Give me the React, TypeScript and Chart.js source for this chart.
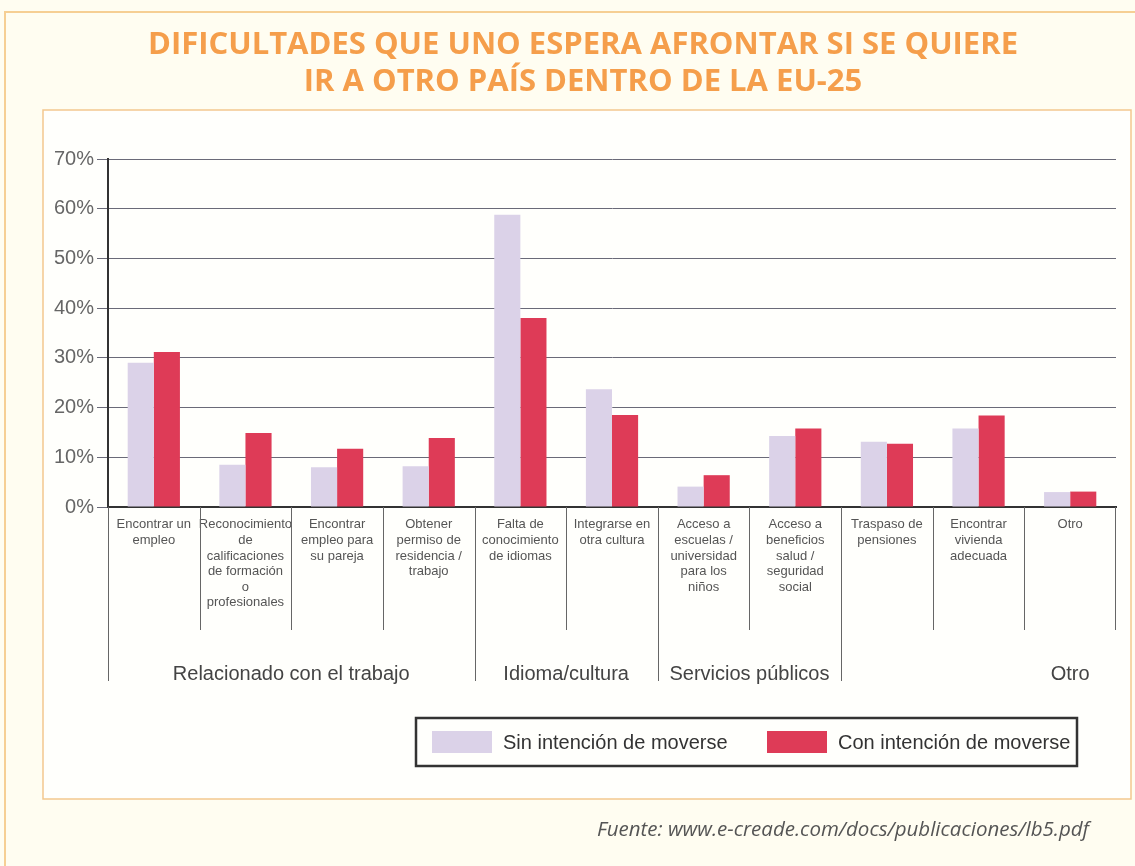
import { useEffect, useRef } from "react";
import { Chart, registerables } from "chart.js";

Chart.register(...registerables);

const titleLines = [
  "DIFICULTADES QUE UNO ESPERA AFRONTAR SI SE QUIERE",
  "IR A OTRO PAÍS DENTRO DE LA EU-25",
];

const categories: string[][] = [
  ["Encontrar un", "empleo"],
  ["Reconocimiento", "de", "calificaciones", "de formación", "o", "profesionales"],
  ["Encontrar", "empleo para", "su pareja"],
  ["Obtener", "permiso de", "residencia /", "trabajo"],
  ["Falta de", "conocimiento", "de idiomas"],
  ["Integrarse en", "otra cultura"],
  ["Acceso a", "escuelas /", "universidad", "para los", "niños"],
  ["Acceso a", "beneficios", "salud /", "seguridad", "social"],
  ["Traspaso de", "pensiones"],
  ["Encontrar", "vivienda", "adecuada"],
  ["Otro"],
];

const seriesNames = ["Sin intención de moverse", "Con intención de moverse"];
const sinIntencion = [29.0, 8.5, 8.0, 8.2, 58.8, 23.7, 4.1, 14.3, 13.1, 15.8, 3.0];
const conIntencion = [31.2, 14.9, 11.7, 13.9, 38.0, 18.5, 6.4, 15.8, 12.7, 18.4, 3.1];

const yTicks = [0, 10, 20, 30, 40, 50, 60, 70];

const groupLabels = ["Relacionado con el trabajo", "Idioma/cultura", "Servicios públicos", "Otro"];
const groupLabelColumns: [number, number][] = [[0, 3], [4, 5], [6, 7], [10, 10]];
const groupDividerColumns = [0, 4, 6, 8];

const sourceText = "Fuente: www.e-creade.com/docs/publicaciones/lb5.pdf";

const COLORS = ["#dbd2e8", "#de3b57"];
const SANS = "'Liberation Sans', Arial, sans-serif";

const decorPlugin = {
  id: "decor",
  beforeDraw(chart: any) {
    const ctx = chart.ctx as CanvasRenderingContext2D;
    ctx.save();
    ctx.fillStyle = "#fffdf1";
    ctx.fillRect(0, 0, chart.width, chart.height);
    ctx.strokeStyle = "#f6cf94";
    ctx.lineWidth = 2;
    ctx.strokeRect(5, 12, chart.width + 20, chart.height + 20);
    ctx.fillStyle = "#fffffc";
    ctx.fillRect(43, 110, 1088, 689);
    ctx.strokeStyle = "#f3c88e";
    ctx.lineWidth = 1.5;
    ctx.strokeRect(43, 110, 1088, 689);
    ctx.restore();
  },
  afterDraw(chart: any) {
    const ctx = chart.ctx as CanvasRenderingContext2D;
    const xs = chart.scales.x;
    const area = chart.chartArea;
    ctx.save();
    // title
    ctx.fillStyle = "#f59e4b";
    ctx.font = "bold 31px 'Open Sans', sans-serif";
    ctx.textAlign = "center";
    ctx.textBaseline = "middle";
    titleLines.forEach((t, i) => ctx.fillText(t, 583, 45 + i * 37));

    // category separators
    const n = categories.length;
    const colW = (area.right - area.left) / n;
    ctx.strokeStyle = "#666";
    ctx.lineWidth = 1;
    for (let i = 0; i <= n; i++) {
      const xx =
        i === n
          ? Math.round(xs.getPixelForValue(n - 1) + colW / 2) - 0.5
          : Math.round(xs.getPixelForValue(i) - colW / 2) + 0.5;
      const long = groupDividerColumns.includes(i);
      ctx.beginPath();
      ctx.moveTo(xx, area.bottom);
      ctx.lineTo(xx, long ? 681 : 630);
      ctx.stroke();
    }

    // group labels
    ctx.fillStyle = "#444";
    ctx.font = `20px ${SANS}`;
    ctx.textAlign = "center";
    ctx.textBaseline = "middle";
    groupLabels.forEach((g, i) => {
      const [a, b] = groupLabelColumns[i];
      const cx = (xs.getPixelForValue(a) + xs.getPixelForValue(b)) / 2;
      ctx.fillText(g, cx, 674);
    });

    // legend
    ctx.strokeStyle = "#333";
    ctx.lineWidth = 2.5;
    ctx.strokeRect(416, 718, 661, 48);
    ctx.font = `20px ${SANS}`;
    ctx.textAlign = "left";
    const legendX = [432, 767];
    chart.data.datasets.forEach((ds: any, i: number) => {
      ctx.fillStyle = ds.backgroundColor;
      ctx.fillRect(legendX[i], 731, 60, 22);
      ctx.fillStyle = "#333";
      ctx.fillText(ds.label, legendX[i] + 71, 743);
    });

    // source
    ctx.fillStyle = "#555";
    ctx.font = "italic 20.5px 'Open Sans', sans-serif";
    ctx.textAlign = "right";
    ctx.fillText(sourceText, 1089, 830);
    ctx.restore();
  },
};

export default function App() {
  const ref = useRef<HTMLCanvasElement>(null);
  useEffect(() => {
    const chart = new Chart(ref.current!, {
      type: "bar",
      data: {
        labels: categories,
        datasets: [
          { label: seriesNames[0], data: sinIntencion, backgroundColor: COLORS[0], categoryPercentage: 0.57, barPercentage: 1.0 },
          { label: seriesNames[1], data: conIntencion, backgroundColor: COLORS[1], categoryPercentage: 0.57, barPercentage: 1.0 },
        ],
      },
      options: {
        responsive: false,
        animation: false,
        devicePixelRatio: 1,
        layout: { padding: { left: 48, top: 159, right: 19, bottom: 0 } },
        plugins: { legend: { display: false }, tooltip: { enabled: false }, title: { display: false } },
        scales: {
          x: {
            grid: { display: false },
            border: { color: "#333", width: 2 },
            ticks: {
              font: { family: SANS, size: 13, lineHeight: 1.2 },
              color: "#555",
              padding: 2,
              maxRotation: 0,
              minRotation: 0,
              autoSkip: false,
            },
            afterFit: (s: any) => {
              s.height = 359;
            },
          },
          y: {
            min: 0,
            max: 70,
            afterBuildTicks: (s: any) => {
              s.ticks = yTicks.map((v) => ({ value: v }));
            },
            ticks: {
              callback: (v: any) => v + "%",
              font: { family: SANS, size: 20 },
              color: "#666",
              padding: 3,
            },
            grid: { color: "#6a6a78", lineWidth: 1, tickLength: 11 },
            border: { color: "#333", width: 2 },
            afterFit: (s: any) => {
              s.width = 60;
            },
          },
        },
      },
      plugins: [decorPlugin],
    });
    return () => chart.destroy();
  }, []);
  return (
    <div style={{ position: "absolute", left: 0, top: 0, width: 1135, height: 866 }}>
      <canvas ref={ref} width={1135} height={866} style={{ display: "block" }} />
    </div>
  );
}
